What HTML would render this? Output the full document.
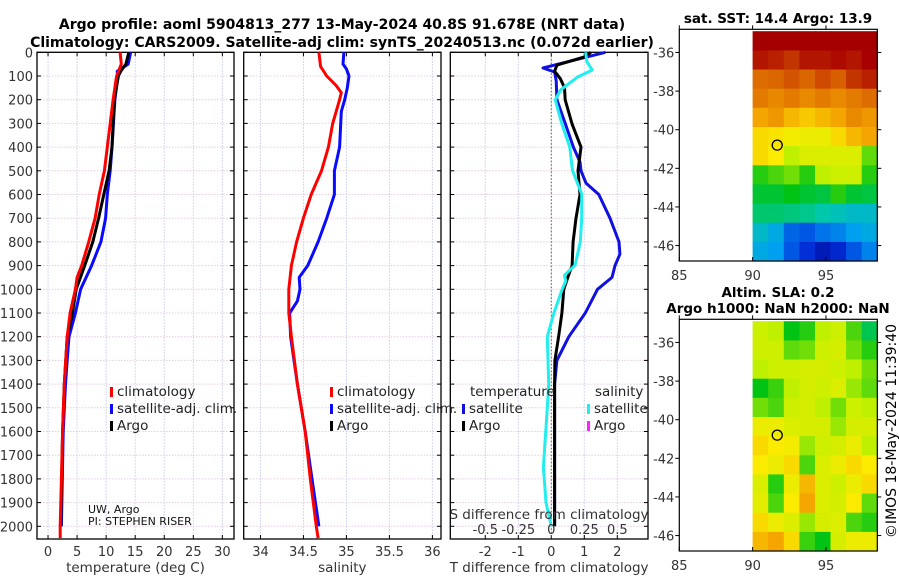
<!DOCTYPE html>
<html><head><meta charset="utf-8">
<style>
html,body{margin:0;padding:0;background:#fff;}
svg{display:block;font-family:"DejaVu Sans","Liberation Sans",sans-serif;}
</style></head>
<body>
<svg id="fig" width="900" height="580" viewBox="0 0 900 580" xmlns="http://www.w3.org/2000/svg">
<text x="342" y="29" font-size="14" font-weight="bold" text-anchor="middle">Argo profile: aoml 5904813_277 13-May-2024 40.8S 91.678E (NRT data)</text>
<text x="342" y="47" font-size="14" font-weight="bold" text-anchor="middle">Climatology: CARS2009. Satellite-adj clim: synTS_20240513.nc (0.072d earlier)</text>
<g id="plots"></g>
<text x="778" y="23" font-size="13.5" font-weight="bold" text-anchor="middle">sat. SST: 14.4 Argo: 13.9</text>
<text x="778" y="297" font-size="13.5" font-weight="bold" text-anchor="middle">Altim. SLA: 0.2</text>
<text x="778" y="313" font-size="13.5" font-weight="bold" text-anchor="middle">Argo h1000: NaN h2000: NaN</text>
<text transform="translate(896,431) rotate(-90)" font-size="14" text-anchor="middle">©IMOS 18-May-2024 11:39:40</text>
</svg>
<script>
// ---- profile data ----
const tempClimDepth = [0,50,100,200,400,500,600,700,800,900,950,1000,1100,1200,1400,1600,1800,2000,2050];
const tempClimVal   = [12.4,12.6,11.8,11.2,10.2,9.7,8.8,8.1,7.0,5.8,5.0,4.7,3.8,3.3,2.8,2.5,2.3,2.1,2.1];
const tempSatDepth  = [0,50,80,100,200,400,500,600,700,800,900,1000,1100,1200,1300,1400,1600,1800,2000];
const tempSatVal    = [14.2,13.8,11.9,12.0,11.5,11.0,10.7,10.2,9.9,9.1,7.5,5.6,4.7,3.6,3.3,3.0,2.6,2.45,2.3];
const tempArgoDepth = [0,50,80,100,200,400,500,600,700,800,900,1000,1100,1200,1400,1600,1800,2000];
const tempArgoVal   = [13.9,13.4,12.5,12.1,11.4,11.0,10.5,9.6,8.7,7.7,6.3,4.85,4.2,3.3,2.8,2.5,2.35,2.2];
const salClimDepth  = [0,60,100,140,170,200,300,400,500,600,700,800,900,1000,1100,1200,1400,1600,1800,2000,2050];
const salClimVal    = [34.68,34.70,34.77,34.88,34.94,34.92,34.84,34.79,34.71,34.59,34.50,34.42,34.36,34.33,34.33,34.36,34.43,34.52,34.58,34.65,34.67];
const salSatDepth   = [0,50,70,100,150,200,250,400,500,600,700,800,900,950,1000,1050,1100,1200,1400,1600,1800,2000];
const salSatVal     = [34.97,34.96,35.0,35.03,35.01,34.98,34.94,34.92,34.86,34.86,34.77,34.67,34.55,34.45,34.46,34.43,34.34,34.35,34.43,34.52,34.6,34.68];
const dTSatDepth    = [0,66,83,120,200,300,400,463,500,552,600,700,800,852,900,950,1000,1100,1200,1300,1400,2000];
const dTSatVal      = [1.64,-0.25,0.1,0.15,0.17,0.42,0.67,0.87,0.9,1.05,1.44,1.78,2.05,2.08,1.93,1.84,1.4,1.03,0.53,0.17,0.1,0.1];
const dTArgoDepth   = [0,20,54,80,110,150,201,303,400,500,600,700,800,900,950,1000,1100,1200,1300,1400,2000];
const dTArgoVal     = [1.2,1.0,0.17,0.1,0.27,0.4,0.42,0.63,0.9,0.81,0.87,0.75,0.66,0.63,0.5,0.38,0.32,0.22,0.11,0.1,0.1];
const dSSatDepth    = [0,40,75,104,159,201,303,400,497,598,700,800,898,940,965,1003,1100,1200,1400,1500,1750,1900,2000];
const dSSatVal      = [0.26,0.27,0.31,0.2,0.07,0.03,0.08,0.14,0.16,0.23,0.23,0.22,0.18,0.1,0.11,0.08,0.02,-0.03,-0.02,-0.03,-0.06,-0.04,0];
const depthTicks    = [0,100,200,300,400,500,600,700,800,900,1000,1100,1200,1300,1400,1500,1600,1700,1800,1900,2000];
const tempTicks     = [0,5,10,15,20,25,30];
const salTicks      = [34,34.5,35,35.5,36];
const salTickLabels = ["34","34.5","35","35.5","36"];
const dTTicks       = [-2,-1,0,1,2];
const dSTicks       = [-0.5,-0.25,0,0.25,0.5];
const dSTickLabels  = ["-0.5","-0.25","0","0.25","0.5"];
// ---- map data (colormap fraction 0..1), rows north->south, cols west->east ----
const mapLonTicks = [85,90,95];
const mapLatTicks = [-36,-38,-40,-42,-44,-46];
const sstGrid = [
 [0.96,0.96,0.96,0.96,0.96,0.96,0.96,0.96],
 [0.93,0.92,0.90,0.93,0.93,0.94,0.93,0.95],
 [0.84,0.85,0.87,0.85,0.88,0.86,0.90,0.92],
 [0.82,0.80,0.82,0.80,0.82,0.80,0.82,0.84],
 [0.76,0.78,0.74,0.72,0.74,0.76,0.80,0.78],
 [0.70,0.69,0.67,0.66,0.66,0.70,0.74,0.76],
 [0.70,0.68,0.60,0.64,0.64,0.64,0.64,0.55],
 [0.52,0.54,0.56,0.52,0.60,0.62,0.62,0.52],
 [0.48,0.48,0.50,0.48,0.47,0.52,0.48,0.47],
 [0.44,0.44,0.43,0.42,0.40,0.38,0.36,0.36],
 [0.36,0.32,0.22,0.20,0.24,0.26,0.30,0.32],
 [0.32,0.30,0.20,0.14,0.08,0.12,0.20,0.26]];
const slaGrid = [
 [0.62,0.60,0.50,0.52,0.60,0.62,0.54,0.46],
 [0.62,0.62,0.55,0.56,0.62,0.63,0.56,0.52],
 [0.60,0.62,0.62,0.63,0.63,0.62,0.60,0.56],
 [0.50,0.53,0.60,0.63,0.62,0.64,0.58,0.55],
 [0.56,0.54,0.62,0.63,0.60,0.56,0.62,0.60],
 [0.66,0.66,0.64,0.63,0.63,0.58,0.63,0.63],
 [0.70,0.68,0.67,0.58,0.62,0.63,0.66,0.60],
 [0.68,0.66,0.70,0.54,0.64,0.66,0.70,0.68],
 [0.64,0.52,0.66,0.74,0.64,0.62,0.66,0.70],
 [0.65,0.54,0.68,0.76,0.64,0.63,0.68,0.55],
 [0.70,0.66,0.64,0.58,0.63,0.64,0.54,0.52],
 [0.74,0.76,0.70,0.53,0.50,0.63,0.66,0.66]];
const argoLon = 91.678, argoLat = -40.8;

const NS="http://www.w3.org/2000/svg";
const root=document.getElementById('plots');
function mk(tag,attrs,parent){const e=document.createElementNS(NS,tag);for(const k in attrs)e.setAttribute(k,attrs[k]);(parent||root).appendChild(e);return e;}
function txt(s,attrs,parent){const e=mk('text',attrs,parent);e.textContent=s;return e;}
const Y0=52.3, YPX=0.237, PTOP=52.3, PBOT=539;
const yD=d=>Y0+d*YPX;
const panels=[
 {name:'temperature',x0:37,x1:234,v0:-1.9,v1:32},
 {name:'salinity',x0:243.7,x1:441,v0:33.805,v1:36.1},
 {name:'difference',x0:450.3,x1:648,v0:-3.06,v1:2.93}];
function sx(p,v){return p.x0+(v-p.v0)/(p.v1-p.v0)*(p.x1-p.x0);}
function drawPanel(p,ticks,labels,xlabel){
 const g=mk('g',{});
 
 
 depthTicks.forEach(d=>{const l=mk('line',{x1:p.x0,x2:p.x1,y1:yD(d),y2:yD(d),stroke:'#e6cce0','stroke-width':1,'stroke-dasharray':'1.5,1.5'},g);});
 ticks.forEach((t,i)=>{const x=sx(p,t);
  const l=mk('line',{x1:x,x2:x,y1:PTOP,y2:PBOT,stroke:'#c8ccf0','stroke-width':1,'stroke-dasharray':'1.5,1.5'},g);
  
  mk('line',{x1:x,x2:x,y1:PBOT,y2:PBOT-4,stroke:'#000'},g);mk('line',{x1:x,x2:x,y1:PTOP,y2:PTOP+4,stroke:'#000'},g);
  const tl=txt(labels[i],{x:x,y:556,'font-size':13,'text-anchor':'middle',fill:'#333'},g);
  });
 depthTicks.forEach(d=>{mk('line',{x1:p.x0,x2:p.x0+4,y1:yD(d),y2:yD(d),stroke:'#000'},g);mk('line',{x1:p.x1,x2:p.x1-4,y1:yD(d),y2:yD(d),stroke:'#000'},g);});
 const b=mk('rect',{x:p.x0,y:PTOP,width:p.x1-p.x0,height:PBOT-PTOP,fill:'none',stroke:'#000','stroke-width':1.3},g);
 
 const xl=txt(xlabel,{x:(p.x0+p.x1)/2,y:572,'font-size':13.5,'text-anchor':'middle',fill:'#333'},g);
 
 return g;
}
function line(p,depths,vals,color,name,scale){
 const pts=depths.map((d,i)=>sx(p,vals[i]*(scale||1)).toFixed(1)+','+yD(d).toFixed(1)).join(' ');
 const l=mk('polyline',{points:pts,fill:'none',stroke:color,'stroke-width':3,'stroke-linejoin':'round'});
 
 
}
const p1=panels[0],p2=panels[1],p3=panels[2];
drawPanel(p1,tempTicks,tempTicks.map(String),'temperature (deg C)');
drawPanel(p2,salTicks,salTickLabels,'salinity');
drawPanel(p3,dTTicks,dTTicks.map(String),'T difference from climatology');
depthTicks.forEach(d=>{const t=txt(String(d),{x:33,y:yD(d)+5,'font-size':13,'text-anchor':'end',fill:'#333'});});
const z=mk('line',{x1:sx(p3,0),x2:sx(p3,0),y1:PTOP,y2:PBOT,stroke:'#556b2f','stroke-width':1,'stroke-dasharray':'1.5,2'});

line(p1,tempSatDepth,tempSatVal,'#0a0aff','temp-satellite-line');
line(p1,tempArgoDepth,tempArgoVal,'#000','temp-argo-line');
line(p1,tempClimDepth,tempClimVal,'#ff0000','temp-climatology-line');
line(p2,salSatDepth,salSatVal,'#0a0aff','sal-satellite-line');
line(p2,salClimDepth,salClimVal,'#ff0000','sal-climatology-line');
line(p3,dTSatDepth,dTSatVal,'#1010e0','tdiff-satellite-line');
line(p3,dTArgoDepth,dTArgoVal,'#000','tdiff-argo-line');
line(p3,dSSatDepth,dSSatVal,'#22eeee','sdiff-satellite-line',4);
const sdt=txt('S difference from climatology',{x:549,y:519,'font-size':13.5,'text-anchor':'middle',fill:'#333'});

dSTicks.forEach((s,i)=>{const t=txt(dSTickLabels[i],{x:sx(p3,s*4),y:534,'font-size':13,'text-anchor':'middle',fill:'#333'});});
function legend(x,y,color,label){const r=mk('rect',{x:x,y:y-9,width:3,height:10,fill:color});
 const t=txt(label,{x:x+7,y:y,'font-size':13.5,fill:'#222'});}
legend(110,396,'#ff0000','climatology');legend(110,413,'#0a0aff','satellite-adj. clim.');legend(110,430,'#000','Argo');
legend(330,396,'#ff0000','climatology');legend(330,413,'#0a0aff','satellite-adj. clim.');legend(330,430,'#000','Argo');
const lt1=txt('temperature',{x:470,y:396,'font-size':13.5,fill:'#222'});
const lt2=txt('salinity',{x:595,y:396,'font-size':13.5,fill:'#222'});
legend(462,413,'#1010e0','satellite');legend(462,430,'#000','Argo');
legend(587,413,'#22eeee','satellite');legend(587,430,'#ff22ff','Argo');
const pi1=txt('UW, Argo',{x:88,y:513,'font-size':11,fill:'#111'});
const pi2=txt('PI: STEPHEN RISER',{x:88,y:525,'font-size':11,fill:'#111'});

// ---- maps ----
const cmapStops=[[0,[0,0,140]],[0.15,[0,50,220]],[0.3,[0,160,240]],[0.4,[0,200,170]],[0.5,[0,195,20]],[0.6,[190,240,0]],[0.68,[250,235,0]],[0.76,[245,165,0]],[0.86,[215,95,0]],[0.95,[168,0,0]],[1,[150,0,0]]];
function cmap(v){v=Math.max(0,Math.min(1,v));
 for(let i=1;i<cmapStops.length;i++){const a=cmapStops[i-1],b=cmapStops[i];
  if(v<=b[0]){const t=(v-a[0])/(b[0]-a[0]);return 'rgb('+a[1].map((c,k)=>Math.round(c+(b[1][k]-c)*t)).join(',')+')';}}
 return 'rgb(150,0,0)';}
function drawMap(top,grid,name){
 const m={x0:679.3,x1:877.3,y0:top,y1:top+231.7,lon0:85,lon1:98.5,lat0:-34.8,lat1:-46.8};
 const mx=lon=>m.x0+(lon-m.lon0)/(m.lon1-m.lon0)*(m.x1-m.x0);
 const my=lat=>m.y0+(lat-m.lat0)/(m.lat1-m.lat0)*(m.y1-m.y0);
 const g=mk('g',{});
 
 
 const nr=grid.length,nc=grid[0].length;
 const dLon=(m.lon1-90)/nc,dLat=(m.lat1-(m.lat0-0.1))/nr;
 for(let r=0;r<nr;r++)for(let c=0;c<nc;c++){
  const xa=mx(90+c*dLon),xb=mx(90+(c+1)*dLon),ya=my(m.lat0-0.1+r*dLat),yb=my(m.lat0-0.1+(r+1)*dLat);
  const cell=mk('rect',{x:xa.toFixed(1),y:ya.toFixed(1),width:(xb-xa+0.6).toFixed(1),height:(yb-ya+0.6).toFixed(1),fill:cmap(grid[r][c])},g);
  
  
 }
 const f=mk('rect',{x:m.x0,y:m.y0,width:m.x1-m.x0,height:m.y1-m.y0,fill:'none',stroke:'#000','stroke-width':1.2},g);
 
 mapLonTicks.forEach(l=>{const x=mx(l);mk('line',{x1:x,x2:x,y1:m.y1,y2:m.y1-4,stroke:'#000'},g);mk('line',{x1:x,x2:x,y1:m.y0,y2:m.y0-4,stroke:'#000'},g);
  const t=txt(String(l),{x:x,y:m.y1+19,'font-size':13,'text-anchor':'middle',fill:'#333'},g);});
 mapLatTicks.forEach(l=>{const y=my(l);mk('line',{x1:m.x0,x2:m.x0-4,y1:y,y2:y,stroke:'#000'},g);mk('line',{x1:m.x1,x2:m.x1+4,y1:y,y2:y,stroke:'#000'},g);
  const t=txt(String(l),{x:m.x0-5,y:y+5,'font-size':13,'text-anchor':'end',fill:'#333'},g);});
 const c=mk('circle',{cx:mx(argoLon),cy:my(argoLat),r:5,fill:'none',stroke:'#000','stroke-width':1.3},g);
 
}
drawMap(29.3,sstGrid,'sst-map');
drawMap(319.3,slaGrid,'sla-map');
</script>
</body></html>
